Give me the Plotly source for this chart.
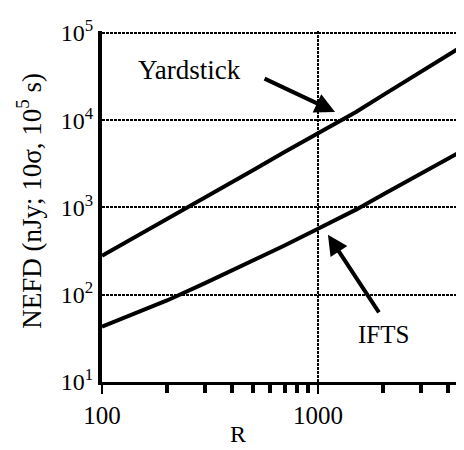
import plotly.graph_objects as go

# Data
R_vals = [100, 200, 300, 500, 700, 1000, 1500, 2000, 3000, 4700]
yardstick = [280, 731, 1295, 2670, 4310, 7160, 12400, 19400, 36000, 71400]
ifts = [43, 86, 136, 244, 366, 569, 944, 1410, 2450, 4520]

x_tickvals = [100, 1000]
x_ticktext = ["100", "1000"]
x_minor = [200, 300, 400, 500, 600, 700, 800, 900, 2000, 3000, 4000]
y_tickvals = [10, 100, 1000, 10000, 100000]
y_ticktext = ["10<sup>1</sup>", "10<sup>2</sup>", "10<sup>3</sup>", "10<sup>4</sup>", "10<sup>5</sup>"]

FONT = "Liberation Serif"

fig = go.Figure()
fig.add_trace(go.Scatter(x=R_vals, y=yardstick, mode="lines", name="Yardstick",
                         line=dict(color="black", width=4)))
fig.add_trace(go.Scatter(x=R_vals, y=ifts, mode="lines", name="IFTS",
                         line=dict(color="black", width=4)))

# Labels and arrows (log axes -> positions given as log10 values)
fig.add_annotation(x=2.403, y=4.576, xref="x", yref="y", text="Yardstick", showarrow=False,
                   font=dict(family=FONT, size=27, color="black"))
fig.add_annotation(x=3.079, y=4.095, xref="x", yref="y", text="", showarrow=True,
                   ax=-72, ay=-34, arrowhead=2, arrowsize=1, arrowwidth=4, arrowcolor="black")
fig.add_annotation(x=3.301, y=1.541, xref="x", yref="y", text="IFTS", showarrow=False,
                   font=dict(family=FONT, size=25, color="black"))
fig.add_annotation(x=3.046, y=2.686, xref="x", yref="y", text="", showarrow=True,
                   ax=52, ay=79, arrowhead=2, arrowsize=1, arrowwidth=4, arrowcolor="black")

# Axis titles
fig.add_annotation(x=-0.2, y=0.515, xref="paper", yref="paper", text="NEFD (nJy; 10σ, 10<sup>5</sup> s)",
                   textangle=-90, showarrow=False, xanchor="center", yanchor="middle",
                   font=dict(family=FONT, size=27, color="black"))
fig.add_annotation(x=0.376, y=-0.148, xref="paper", yref="paper", text="R",
                   showarrow=False, xanchor="center", yanchor="middle",
                   font=dict(family=FONT, size=24, color="black"))

fig.update_layout(
    width=456, height=442,
    margin=dict(l=94, r=0, t=23, b=68, autoexpand=False),
    paper_bgcolor="white", plot_bgcolor="white",
    showlegend=False,
    font=dict(family=FONT, color="black"),
    xaxis=dict(type="log", range=[2, 3.676], tickvals=x_tickvals, ticktext=x_ticktext,
               automargin=False,
               tickfont=dict(size=25), ticks="outside", ticklen=9, tickwidth=2, tickcolor="black",
               showline=True, linecolor="black", linewidth=3,
               showgrid=True, gridcolor="black", gridwidth=1.5, griddash="3px,1px",
               minor=dict(tickvals=x_minor, ticks="outside", ticklen=8, tickwidth=4,
                          tickcolor="black", showgrid=False),
               zeroline=False),
    yaxis=dict(type="log", range=[1, 5.022], tickvals=y_tickvals, ticktext=y_ticktext,
               automargin=False,
               tickfont=dict(size=24), ticks="",
               showline=True, linecolor="black", linewidth=4,
               showgrid=True, gridcolor="black", gridwidth=1.5, griddash="3px,1px",
               zeroline=False),
)

fig.write_html("out.html")
